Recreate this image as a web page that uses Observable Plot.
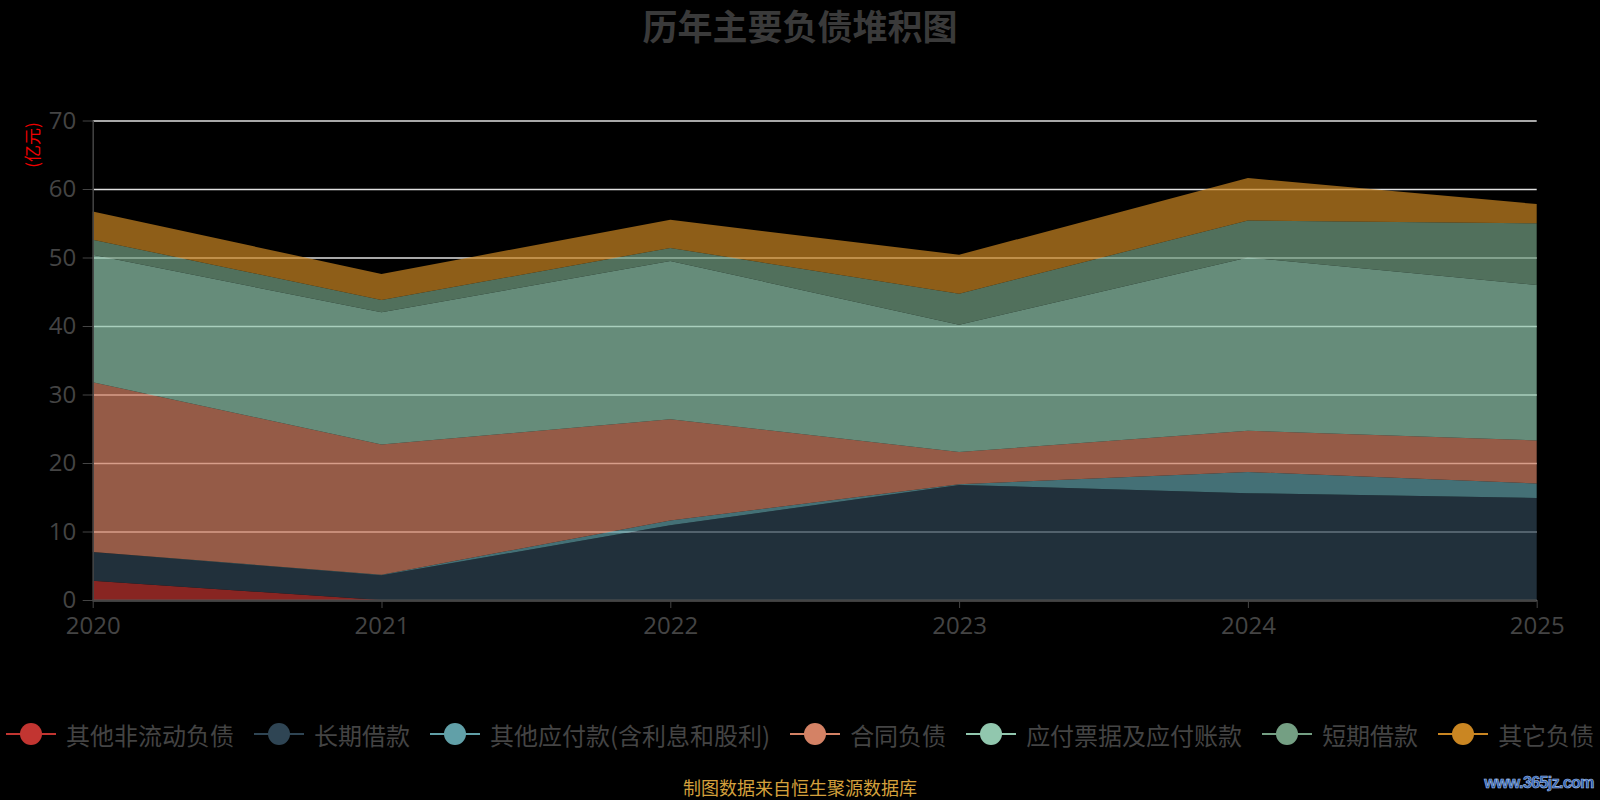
<!DOCTYPE html>
<html>
<head>
<meta charset="utf-8">
<script src="https://cdn.jsdelivr.net/npm/d3@7"></script>
<script src="https://cdn.jsdelivr.net/npm/@observablehq/plot@0.6"></script>
<style>
  html, body { margin: 0; padding: 0; background: #000; }
  #root { position: relative; width: 1600px; height: 800px; background: #000; overflow: hidden; }
  #title { position: absolute; left: 0; top: 0; width: 1600px; height: 50px; line-height: 50px; text-align: center;
           font-family: "Noto Sans CJK SC", sans-serif; font-weight: bold; font-size: 35px; color: #3a3a3a; }
  #chart { position: absolute; left: 0; top: 60px; }
  #ylabel { position: absolute; left: 31px; top: 145px; transform: translate(-50%, -50%) rotate(-90deg);
            font-family: "Noto Sans CJK SC", sans-serif; font-size: 17px; color: #e00; white-space: nowrap; }
  #legend { position: absolute; left: 0; top: 719px; width: 1600px; height: 30px; display: flex; justify-content: center;
            align-items: center; white-space: nowrap; font-family: "Noto Sans CJK SC", sans-serif; font-size: 24px; color: #444; }
  .item { display: flex; align-items: center; margin: 0 10px; }
  .item svg { margin-right: 10px; }
  #caption { position: absolute; left: 0; top: 777px; width: 1600px; text-align: center; font-family: "Noto Sans CJK SC", sans-serif;
             font-size: 18px; line-height: 21px; color: #d4a03c; }
  #wm { position: absolute; right: 6px; top: 774px; font-family: "Liberation Sans", sans-serif; font-weight: bold; font-size: 16px;
        color: #2a5caa; letter-spacing: -0.6px; -webkit-text-stroke: 0.6px #aac4ee; }
</style>
</head>
<body>
<div id="root">
  <div id="title">历年主要负债堆积图</div>
  <div id="chart"></div>
  <div id="ylabel">(亿元)</div>
  <div id="legend"></div>
  <div id="caption">制图数据来自恒生聚源数据库</div>
  <div id="wm">www.365jz.com</div>
</div>
<script>
const years = [2020, 2021, 2022, 2023, 2024, 2025];
const seriesNames = ["其他非流动负债", "长期借款", "其他应付款(含利息和股利)", "合同负债", "应付票据及应付账款", "短期借款", "其它负债"];
const seriesColors = ["#c23531", "#2f4554", "#61a0a8", "#d48265", "#91c7ae", "#749f83", "#ca8622"];
const otherNonCurrent = [2.8, 0, 0, 0, 0, 0];
const longTermLoans   = [4.2, 3.6, 10.9, 16.8, 15.6, 14.9];
const otherPayables   = [0, 0.1, 0.7, 0.1, 3.1, 2.1];
const contractLiab    = [24.8, 19.0, 14.8, 4.7, 6.0, 6.3];
const notesPayable    = [18.6, 19.3, 23.1, 18.6, 25.3, 22.7];
const shortTermLoans  = [2.2, 1.8, 1.9, 4.5, 5.4, 9.0];
const otherLiab       = [4.1, 3.8, 4.1, 5.7, 6.2, 2.8];
const yTicks = [0, 10, 20, 30, 40, 50, 60, 70];

const seriesValues = [otherNonCurrent, longTermLoans, otherPayables, contractLiab, notesPayable, shortTermLoans, otherLiab];
const data = seriesNames.flatMap((s, i) => years.map((yr, j) => ({year: yr, series: s, value: seriesValues[i][j]})));

const chart = Plot.plot({
  width: 1600,
  height: 600,
  marginTop: 60.5,
  marginBottom: 60,
  marginLeft: 92.7,
  marginRight: 63.3,
  style: {background: "transparent", color: "#444", fontSize: "24px", fontFamily: "'Open Sans','Noto Sans CJK SC',sans-serif"},
  x: {domain: [2020, 2025], label: null},
  y: {domain: [0, 70], label: null},
  color: {domain: seriesNames, range: seriesColors},
  marks: [
    Plot.gridY(yTicks, {stroke: "#e0e0e0", strokeOpacity: 1, strokeWidth: 1.5}),
    Plot.areaY(data, {x: "year", y: "value", fill: "series", fillOpacity: 0.7, order: seriesNames}),
    Plot.ruleY([0], {stroke: "#444", strokeWidth: 2}),
    Plot.ruleX([2020], {stroke: "#444", strokeWidth: 1.5}),
    Plot.axisY({ticks: yTicks, tickSize: 10, tickPadding: 7, stroke: "#444", fill: "#444", label: null}),
    Plot.axisX({ticks: years, tickSize: 8, tickPadding: 8, stroke: "#444", fill: "#444", tickFormat: d => String(d), label: null})
  ]
});
document.getElementById("chart").appendChild(chart);

const legend = document.getElementById("legend");
seriesNames.forEach((name, i) => {
  const item = document.createElement("div");
  item.className = "item";
  const c = seriesColors[i];
  item.innerHTML = `<svg width="50" height="24"><line x1="0" y1="12" x2="50" y2="12" stroke="${c}" stroke-width="2"/><circle cx="25" cy="12" r="11" fill="${c}"/></svg><span>${name}</span>`;
  legend.appendChild(item);
});
</script>
</body>
</html>
